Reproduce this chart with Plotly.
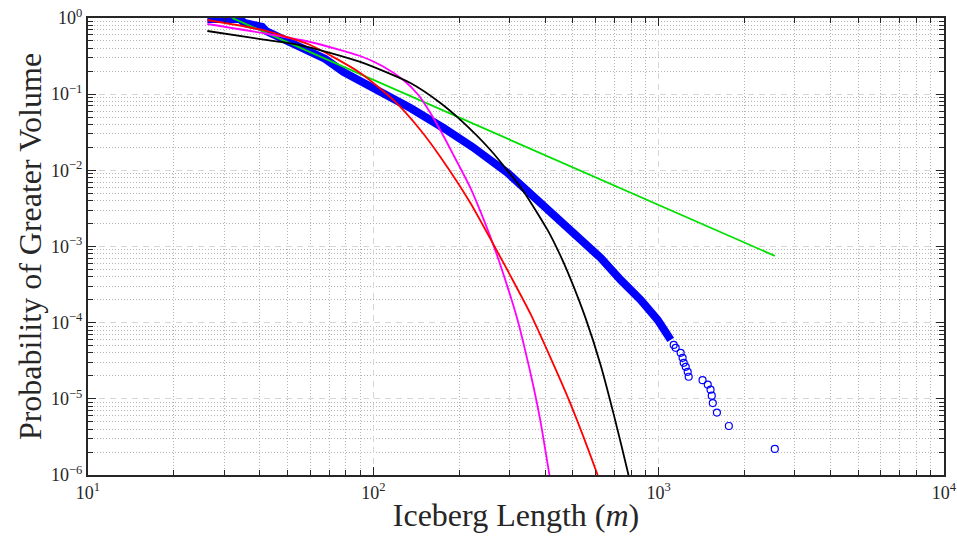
import plotly.graph_objects as go

band_x = [26.2, 34.1, 35.3, 40.8, 42.1, 53.2, 60.1, 67.9, 78.5, 103.3, 134.9, 176.1,
          222.5, 295.3, 385.5, 503.3, 626, 735.7, 864.8, 992, 1102]
band_y = [0.970, 0.970, 0.860, 0.762, 0.675, 0.442, 0.358, 0.290, 0.196, 0.1135, 0.0659,
          0.0360, 0.0203, 0.00925, 0.00373, 0.00155, 7.09e-4, 3.64e-4, 1.99e-4, 1.09e-4, 5.95e-5]

tail_x = [1129, 1147, 1194, 1213, 1224, 1244, 1264, 1274,
          1425, 1486, 1520, 1535, 1548, 1600, 1762, 2553]
tail_y = [5.1e-5, 4.67e-5, 4.02e-5, 3.45e-5, 2.97e-5, 2.63e-5, 2.26e-5, 1.95e-5,
          1.76e-5, 1.54e-5, 1.32e-5, 1.10e-5, 8.8e-6, 6.6e-6, 4.4e-6, 2.2e-6]

# ---- fitted distributions ----
green_x = [32.0, 2553]
green_y = [1.0, 7.53e-4]

black_x = [26.2, 40.8, 55.4, 90.0, 134.9, 171.8, 202, 257.3, 333.3, 407.8, 453, 491,
           554, 626, 695, 785, 810]
black_y = [0.675, 0.524, 0.442, 0.265, 0.140, 0.0766, 0.0459, 0.0185, 0.00553, 0.00165,
           7.53e-4, 3.76e-4, 1.156e-4, 2.79e-5, 6.35e-6, 9.8e-7, 5.5e-7]

red_x = [26.2, 40.8, 60.1, 90.0, 117.5, 146.2, 171.8, 218.9, 257.3, 302.5, 355.5, 418,
         491, 611, 640]
red_y = [0.941, 0.696, 0.442, 0.190, 0.0839, 0.0339, 0.0150, 0.00373, 1.258e-3, 4.11e-4,
         1.304e-4, 3.45e-5, 8.6e-6, 1.0e-6, 6.0e-7]

mag_x = [26.2, 40.8, 60.1, 90.0, 107.5, 127.4, 143.9, 158.5, 174.6, 190.9, 218.9, 243.2,
         268, 295.3, 320.1, 341.5, 364.2, 385.5, 414.5, 425]
mag_y = [0.834, 0.636, 0.484, 0.317, 0.2345, 0.1536, 0.0976, 0.0567, 0.0300, 0.0159,
         0.00589, 0.00230, 8.76e-4, 2.95e-4, 1.09e-4, 4.14e-5, 1.44e-5, 4.99e-6,
         9.8e-7, 5.5e-7]

# ---- tick labels ----
x_tick_vals = [10, 100, 1000, 10000]
x_tick_text = ["10<sup>1</sup>", "10<sup>2</sup>", "10<sup>3</sup>", "10<sup>4</sup>"]
y_tick_vals = [1e-6, 1e-5, 1e-4, 1e-3, 1e-2, 1e-1, 1]
y_tick_text = ["10<sup>\u22126</sup>", "10<sup>\u22125</sup>", "10<sup>\u22124</sup>",
               "10<sup>\u22123</sup>", "10<sup>\u22122</sup>", "10<sup>\u22121</sup>",
               "10<sup>0</sup>"]

x_minor = [m * 10 ** e for e in range(1, 4) for m in range(2, 10)]
y_minor = [m * 10.0 ** e for e in range(-6, 0) for m in range(2, 10)]

AX = '#262626'
SERIF = 'Liberation Serif'

fig = go.Figure()
fig.add_trace(go.Scatter(x=band_x, y=band_y, mode='lines',
                         line=dict(color='#0000ff', width=8), hoverinfo='skip'))
fig.add_trace(go.Scatter(x=tail_x, y=tail_y, mode='markers',
                         marker=dict(symbol='circle-open', size=7, color='#0000ff',
                                     line=dict(width=1.2, color='#0000ff'))))
fig.add_trace(go.Scatter(x=green_x, y=green_y, mode='lines',
                         line=dict(color='#00e000', width=1.8)))
fig.add_trace(go.Scatter(x=mag_x, y=mag_y, mode='lines',
                         line=dict(color='#ff00ff', width=1.8, shape='spline', smoothing=0.7)))
fig.add_trace(go.Scatter(x=red_x, y=red_y, mode='lines',
                         line=dict(color='#ff0000', width=1.8, shape='spline', smoothing=0.6)))
fig.add_trace(go.Scatter(x=black_x, y=black_y, mode='lines',
                         line=dict(color='#000000', width=1.8, shape='spline', smoothing=0.6)))

common = dict(
    type='log', tickmode='array', ticks='inside', ticklen=8, tickwidth=1.3, tickcolor=AX,
    showline=True, linecolor=AX, linewidth=2, mirror='ticks', automargin=False,
    showgrid=True, gridcolor='#d6d6d6', griddash='6px,5px', gridwidth=1, zeroline=False,
    tickfont=dict(family=SERIF, size=18, color=AX),
)

fig.update_layout(
    width=957, height=539,
    margin=dict(l=88, r=13, t=18, b=64),
    paper_bgcolor='white', plot_bgcolor='white',
    showlegend=False,
    xaxis=dict(range=[1, 4], tickvals=x_tick_vals, ticktext=x_tick_text,
               minor=dict(tickmode='array', tickvals=x_minor, ticks='inside', ticklen=5,
                          tickwidth=1, tickcolor=AX, showgrid=True, gridcolor='#b4b4b4',
                          griddash='1px,2px', gridwidth=1),
               title=dict(text='Iceberg Length (<i>m</i>)', standoff=2,
                          font=dict(family=SERIF, size=32, color=AX)),
               **common),
    yaxis=dict(range=[-6, 0], tickvals=y_tick_vals, ticktext=y_tick_text,
               minor=dict(tickmode='array', tickvals=y_minor, ticks='inside', ticklen=5,
                          tickwidth=1, tickcolor=AX, showgrid=True, gridcolor='#b4b4b4',
                          griddash='1px,2px', gridwidth=1),
               title=dict(text='Probability of Greater Volume', standoff=0,
                          font=dict(family=SERIF, size=32, color=AX)),
               **common),
)

fig.write_html("out.html")
